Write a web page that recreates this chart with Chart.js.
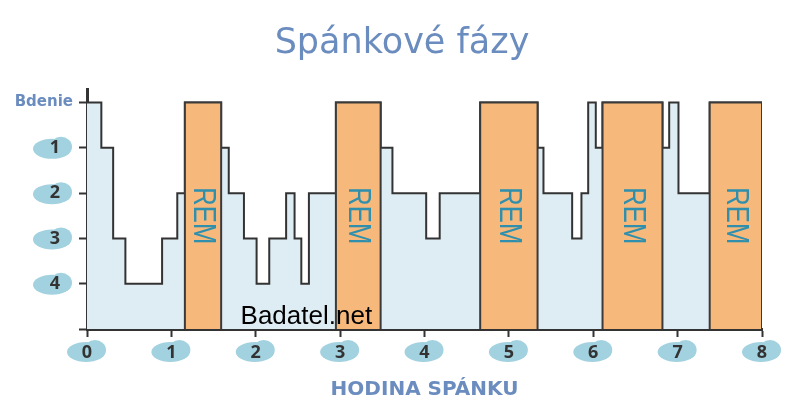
<!DOCTYPE html>
<html lang="sk">
<head>
<meta charset="UTF-8">
<title>Spánkové fázy</title>
<script src="https://cdn.jsdelivr.net/npm/chart.js@4.4.1/dist/chart.umd.min.js"></script>
<style>
  * { box-sizing: border-box; margin: 0; padding: 0; }
  body { background: #fff; }
  #wrap { width: 800px; height: 418px; }
</style>
</head>
<body>
<div id="wrap"><canvas id="myChart" width="800" height="418"></canvas></div>
<script>
  // hypnogram: time (hours) where each stage starts, and the stage (0 = awake)
  const hours = [0, 0.17, 0.31, 0.455, 0.89, 1.07, 1.16, 1.59, 1.68, 1.86, 2.01, 2.16, 2.36, 2.46, 2.54, 2.63,
    2.95, 3.48, 3.62, 4.02, 4.18, 4.66, 5.34, 5.41, 5.75, 5.86, 5.94, 6.03, 6.11, 6.82, 6.90, 7.01, 7.38, 8.0];
  const stages = [0, 1, 3, 4, 3, 2, 0, 1, 2, 3, 4, 3, 2, 3, 4, 2,
    0, 1, 2, 3, 2, 0, 1, 2, 3, 2, 0, 1, 0, 1, 0, 2, 0, 0];

  // REM periods
  const remStart = [1.16, 2.95, 4.66, 6.11, 7.38];
  const remEnd = [1.59, 3.48, 5.34, 6.82, 8.0];

  const xTicks = [0, 1, 2, 3, 4, 5, 6, 7, 8];
  const yTicks = [0, 1, 2, 3, 4, 5];
  const yLabels = ['Bdenie', '1', '2', '3', '4', ''];

  const blue = '#6b8cbf';
  const bubble = '#a2d1e0';
  const dark = '#333333';

  let hypno = hours.map((h, i) => ({ x: h, y: stages[i] }));

  let remPoints = [];
  for (let i = 0; i < remStart.length; i++) {
    remPoints.push({ x: remStart[i], y: 5 });
    remPoints.push({ x: remStart[i], y: 0 });
    remPoints.push({ x: remEnd[i], y: 0 });
    remPoints.push({ x: remEnd[i], y: 5 });
    remPoints.push({ x: remEnd[i], y: null });
  }

  function cloud(ctx, cx, cy) {
    ctx.beginPath();
    ctx.ellipse(cx - 1, cy + 1, 19, 10, 0, 0, Math.PI * 2);
    ctx.fill();
    ctx.beginPath();
    ctx.ellipse(cx + 8, cy - 1, 11, 10, 0, 0, Math.PI * 2);
    ctx.fill();
  }

  const decor = {
    id: 'decor',
    beforeDraw(chart) {
      const ctx = chart.ctx;
      const x = chart.scales.x, y = chart.scales.y;
      ctx.save();
      ctx.fillStyle = bubble;
      xTicks.forEach(v => cloud(ctx, x.getPixelForValue(v), x.top + 22));
      yTicks.forEach((v, i) => {
        if (i > 0 && yLabels[i] !== '') cloud(ctx, y.right - 34, y.getPixelForValue(v));
      });
      ctx.restore();
    },
    afterDatasetsDraw(chart) {
      const ctx = chart.ctx;
      const x = chart.scales.x, y = chart.scales.y;
      ctx.save();
      ctx.fillStyle = '#2f8fad';
      ctx.font = '32px "Liberation Sans"';
      ctx.textAlign = 'center';
      ctx.textBaseline = 'middle';
      for (let i = 0; i < remStart.length; i++) {
        ctx.save();
        ctx.translate(x.getPixelForValue((remStart[i] + remEnd[i]) / 2), y.getPixelForValue(2.5));
        ctx.rotate(Math.PI / 2);
        ctx.scale(0.8, 1);
        ctx.fillText('REM', 0, 0);
        ctx.restore();
      }
      ctx.restore();
    },
    afterDraw(chart) {
      const ctx = chart.ctx;
      const x = chart.scales.x, y = chart.scales.y;
      ctx.save();
      // first y label sits further right than the numbers
      ctx.fillStyle = blue;
      ctx.font = 'bold 15px "DejaVu Sans"';
      ctx.textAlign = 'right';
      ctx.textBaseline = 'middle';
      ctx.fillText(yLabels[0], y.right - 14, y.getPixelForValue(yTicks[0]));
      // watermark
      ctx.fillStyle = '#000';
      ctx.font = '26px "Liberation Sans"';
      ctx.textAlign = 'left';
      ctx.textBaseline = 'alphabetic';
      ctx.fillText('Badatel.net', x.getPixelForValue(1.82), y.bottom - 5);
      ctx.restore();
    }
  };

  let context = document.getElementById('myChart').getContext('2d');
  let chart = new Chart(context, {
    type: 'line',
    data: {
      datasets: [
        {
          label: 'REM',
          data: remPoints,
          borderColor: '#3a3a3a',
          borderWidth: 2,
          backgroundColor: '#f6b97b',
          fill: { value: 5 },
          pointRadius: 0,
          tension: 0,
          spanGaps: false,
        },
        {
          label: 'Fázy',
          data: hypno,
          stepped: true,
          borderColor: dark,
          borderWidth: 2,
          backgroundColor: '#deedf3',
          fill: { value: 5 },
          pointRadius: 0,
        }
      ]
    },
    options: {
      responsive: false,
      animation: false,
      layout: { padding: { left: 42, right: 38 } },
      plugins: {
        legend: { display: false },
        tooltip: { enabled: false },
        title: {
          display: true,
          text: 'Spánkové fázy',
          color: blue,
          font: { family: 'DejaVu Sans', size: 35, weight: 'normal' },
          padding: { top: 23, bottom: 24 },
        },
      },
      scales: {
        x: {
          type: 'linear',
          min: 0,
          max: 8,
          afterBuildTicks: s => { s.ticks = xTicks.map(v => ({ value: v })); },
          afterFit: s => { s.height = 89; },
          grid: { drawOnChartArea: false, tickLength: 8, tickColor: dark, tickWidth: 2 },
          border: { color: dark, width: 3 },
          ticks: {
            color: dark,
            font: { family: 'Open Sans', size: 18, weight: 'bold' },
            padding: 5,
            maxRotation: 0,
          },
          title: {
            display: true,
            text: 'HODINA SPÁNKU',
            color: blue,
            font: { family: 'DejaVu Sans', size: 20, weight: 'bold' },
            padding: { top: 0, bottom: 16 },
          },
        },
        y: {
          type: 'linear',
          reverse: true,
          min: -0.3,
          max: 5,
          afterBuildTicks: s => { s.ticks = yTicks.map(v => ({ value: v })); },
          afterFit: s => { s.width = 45; },
          grid: { drawOnChartArea: false, tickLength: 8, tickColor: dark, tickWidth: 2 },
          border: { color: dark, width: 3 },
          ticks: {
            color: dark,
            font: { family: 'Open Sans', size: 18, weight: 'bold' },
            padding: 19,
            callback: (v, i) => i === 0 ? '' : yLabels[i],
          },
        },
      },
    },
    plugins: [decor],
  });
</script>
</body>
</html>
